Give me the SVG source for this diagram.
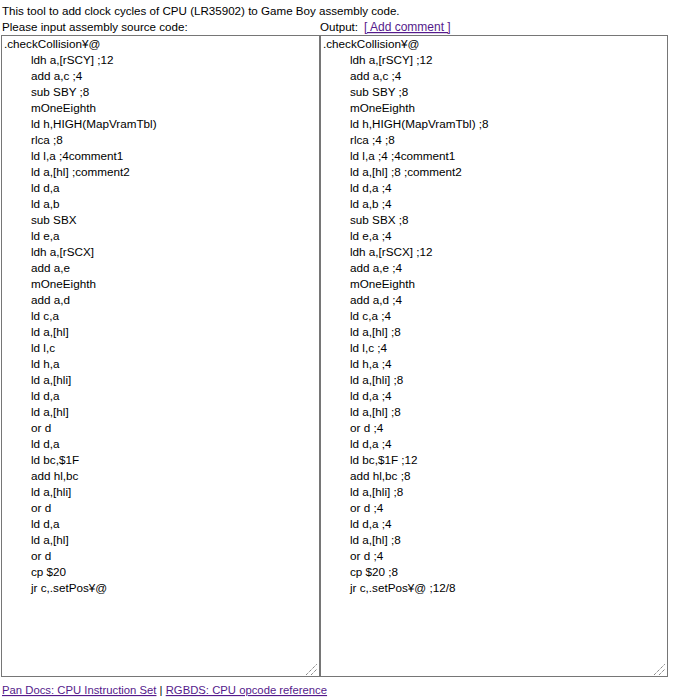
<svg xmlns="http://www.w3.org/2000/svg" width="674" height="699" viewBox="0 0 674 699">
<style>
text{font-family:"Liberation Sans",Arial,sans-serif;fill:#000}
.h{font-size:11.6px}
.f{font-size:11.3px}
.c{font-size:11.7px}
.lk{fill:#551a8b;text-decoration:underline}
.ta{fill:#fff;stroke:#767676;stroke-width:1}
.grip{stroke:#555;stroke-width:1;stroke-dasharray:1 1}
</style>
<rect width="674" height="699" fill="#fff"/>
<g id="header">
<text class="h" x="2" y="15">This tool to add clock cycles of CPU (LR35902) to Game Boy assembly code.</text>
<text class="h" x="2" y="31">Please input assembly source code:</text>
<text class="h" x="320" y="31">Output: <tspan class="lk" x="364" style="font-size:12px">[ Add comment ]</tspan></text>
</g>
<g id="input">
<rect class="ta" x="1.5" y="35.5" width="318" height="641"/>
<line class="grip" x1="306" y1="675" x2="317" y2="664"/>
<line class="grip" x1="311" y1="675" x2="317" y2="669"/>
<g class="c">
<text x="4" y="48">.checkCollision¥@</text>
<text x="31" y="64">ldh a,[rSCY] ;12</text>
<text x="31" y="80">add a,c ;4</text>
<text x="31" y="96">sub SBY ;8</text>
<text x="31" y="112">mOneEighth</text>
<text x="31" y="128">ld h,HIGH(MapVramTbl)</text>
<text x="31" y="144">rlca ;8</text>
<text x="31" y="160">ld l,a ;4comment1</text>
<text x="31" y="176">ld a,[hl] ;comment2</text>
<text x="31" y="192">ld d,a</text>
<text x="31" y="208">ld a,b</text>
<text x="31" y="224">sub SBX</text>
<text x="31" y="240">ld e,a</text>
<text x="31" y="256">ldh a,[rSCX]</text>
<text x="31" y="272">add a,e</text>
<text x="31" y="288">mOneEighth</text>
<text x="31" y="304">add a,d</text>
<text x="31" y="320">ld c,a</text>
<text x="31" y="336">ld a,[hl]</text>
<text x="31" y="352">ld l,c</text>
<text x="31" y="368">ld h,a</text>
<text x="31" y="384">ld a,[hli]</text>
<text x="31" y="400">ld d,a</text>
<text x="31" y="416">ld a,[hl]</text>
<text x="31" y="432">or d</text>
<text x="31" y="448">ld d,a</text>
<text x="31" y="464">ld bc,$1F</text>
<text x="31" y="480">add hl,bc</text>
<text x="31" y="496">ld a,[hli]</text>
<text x="31" y="512">or d</text>
<text x="31" y="528">ld d,a</text>
<text x="31" y="544">ld a,[hl]</text>
<text x="31" y="560">or d</text>
<text x="31" y="576">cp $20</text>
<text x="31" y="592">jr c,.setPos¥@</text>
</g>
</g>
<g id="output">
<rect class="ta" x="320.5" y="35.5" width="347" height="641"/>
<line class="grip" x1="654" y1="675" x2="665" y2="664"/>
<line class="grip" x1="659" y1="675" x2="665" y2="669"/>
<g class="c">
<text x="323" y="48">.checkCollision¥@</text>
<text x="350" y="64">ldh a,[rSCY] ;12</text>
<text x="350" y="80">add a,c ;4</text>
<text x="350" y="96">sub SBY ;8</text>
<text x="350" y="112">mOneEighth</text>
<text x="350" y="128">ld h,HIGH(MapVramTbl) ;8</text>
<text x="350" y="144">rlca ;4 ;8</text>
<text x="350" y="160">ld l,a ;4 ;4comment1</text>
<text x="350" y="176">ld a,[hl] ;8 ;comment2</text>
<text x="350" y="192">ld d,a ;4</text>
<text x="350" y="208">ld a,b ;4</text>
<text x="350" y="224">sub SBX ;8</text>
<text x="350" y="240">ld e,a ;4</text>
<text x="350" y="256">ldh a,[rSCX] ;12</text>
<text x="350" y="272">add a,e ;4</text>
<text x="350" y="288">mOneEighth</text>
<text x="350" y="304">add a,d ;4</text>
<text x="350" y="320">ld c,a ;4</text>
<text x="350" y="336">ld a,[hl] ;8</text>
<text x="350" y="352">ld l,c ;4</text>
<text x="350" y="368">ld h,a ;4</text>
<text x="350" y="384">ld a,[hli] ;8</text>
<text x="350" y="400">ld d,a ;4</text>
<text x="350" y="416">ld a,[hl] ;8</text>
<text x="350" y="432">or d ;4</text>
<text x="350" y="448">ld d,a ;4</text>
<text x="350" y="464">ld bc,$1F ;12</text>
<text x="350" y="480">add hl,bc ;8</text>
<text x="350" y="496">ld a,[hli] ;8</text>
<text x="350" y="512">or d ;4</text>
<text x="350" y="528">ld d,a ;4</text>
<text x="350" y="544">ld a,[hl] ;8</text>
<text x="350" y="560">or d ;4</text>
<text x="350" y="576">cp $20 ;8</text>
<text x="350" y="592">jr c,.setPos¥@ ;12/8</text>
</g>
</g>
<g id="footer">
<text class="f" x="2" y="694"><tspan class="lk">Pan Docs: CPU Instruction Set</tspan> | <tspan class="lk">RGBDS: CPU opcode reference</tspan></text>
</g>
</svg>
